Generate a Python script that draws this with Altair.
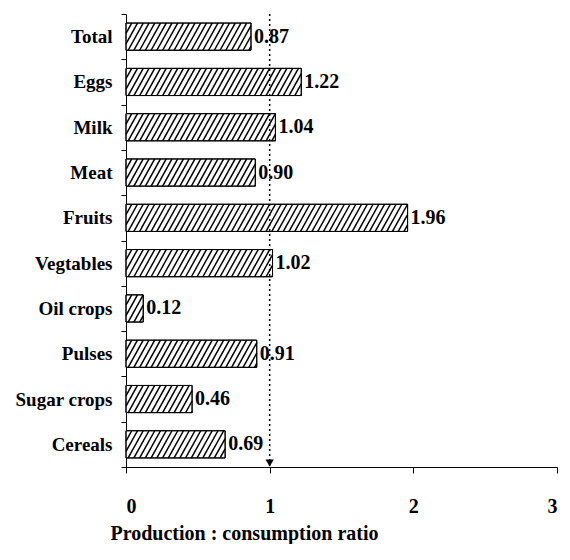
import altair as alt
import pandas as pd

# ---- data ----
categories = ["Total", "Eggs", "Milk", "Meat", "Fruits", "Vegtables",
              "Oil crops", "Pulses", "Sugar crops", "Cereals"]
ratios = [0.87, 1.22, 1.04, 0.90, 1.96, 1.02, 0.12, 0.91, 0.46, 0.69]
x_ticks = [0, 1, 2, 3]
reference_ratio = 1

n = len(categories)
df = pd.DataFrame({
    "category": categories,
    "value": ratios,
    "idx": [n - 1 - i for i in range(n)],
})

FONT = "Liberation Serif"
W, H = 431, 453
HB = 0.30
RUN = 0.105
STEP = 0.040

xscale = alt.Scale(domain=[0, 3], nice=False, zero=True)
yscale = alt.Scale(domain=[-0.5, n - 0.5], nice=False, zero=False)

# ticks sit on the band boundaries; each label is the band just above its tick
y_tick_values = [i - 0.5 for i in range(n + 1)]
label_expr = ""
for i, c in enumerate(reversed(categories)):
    label_expr += f"round(datum.value + 0.5) == {i} ? '{c}' : "
label_expr += "''"

x_axis = alt.Axis(values=x_ticks, format="d", grid=False,
                  labelFont=FONT, labelFontSize=20, labelFontWeight="bold",
                  labelColor="black", tickSize=6, tickColor="black",
                  domainColor="black", labelPadding=23,
                  title="Production : consumption ratio",
                  titleFont=FONT, titleFontSize=20, titleFontWeight="bold",
                  titleColor="black", titleX=118, titleY=72,
                  titleBaseline="alphabetic", titleAlign="center")
y_axis = alt.Axis(orient="left", values=y_tick_values, labelExpr=label_expr,
                  labelOffset=-H / (2 * n), grid=False, title=None,
                  tickSize=5, tickColor="black", domainColor="black",
                  labelFont=FONT, labelFontSize=19, labelFontWeight="bold",
                  labelColor="black", labelPadding=9)

base = alt.Chart(df).transform_calculate(
    bot=f"datum.idx - {HB}", top=f"datum.idx + {HB}", zero="0"
)

bars = base.mark_rect(fill="white", stroke="black", strokeWidth=1).encode(
    x=alt.X("zero:Q", scale=xscale, axis=x_axis),
    x2="value:Q",
    y=alt.Y("bot:Q", scale=yscale, axis=y_axis),
    y2="top:Q",
)

hatch = base.transform_calculate(
    s=f"sequence(-{RUN}, datum.value, {STEP})"
).transform_flatten(["s"]).transform_calculate(
    xa="max(datum.s, 0)",
    xb=f"min(datum.s + {RUN}, datum.value)",
).transform_calculate(
    ya=f"datum.bot + (datum.xa - datum.s) / {RUN} * {2 * HB}",
    yb=f"datum.bot + (datum.xb - datum.s) / {RUN} * {2 * HB}",
).transform_filter("datum.xb > datum.xa").mark_rule(
    color="black", strokeWidth=1.5
).encode(
    x=alt.X("xa:Q", scale=xscale, axis=x_axis),
    x2="xb:Q",
    y=alt.Y("ya:Q", scale=yscale, axis=y_axis),
    y2="yb:Q",
)

outline = base.mark_rect(fill="white", fillOpacity=0, stroke="black", strokeWidth=1).encode(
    x=alt.X("zero:Q", scale=xscale, axis=x_axis),
    x2="value:Q",
    y=alt.Y("bot:Q", scale=yscale, axis=y_axis),
    y2="top:Q",
)

labels = base.mark_text(align="left", baseline="middle", dx=3, font=FONT,
                        fontSize=20, fontWeight="bold", color="black").encode(
    x=alt.X("value:Q", scale=xscale, axis=x_axis),
    y=alt.Y("idx:Q", scale=yscale, axis=y_axis),
    text=alt.Text("value:Q", format=".2f"),
)

ref_df = pd.DataFrame({"ref": [reference_ratio], "bottom": [-0.5]})
ref_line = alt.Chart(ref_df).mark_rule(color="black", strokeWidth=1.5,
                                       strokeDash=[2, 3]).encode(
    x=alt.X("ref:Q", scale=xscale, axis=x_axis),
)
arrow = alt.Chart(ref_df).mark_point(
    shape="triangle-down", filled=True, color="black", size=70, opacity=1, yOffset=-4
).encode(
    x=alt.X("ref:Q", scale=xscale, axis=x_axis),
    y=alt.Y("bottom:Q", scale=yscale, axis=y_axis),
)

chart = alt.layer(bars, hatch, outline, ref_line, labels, arrow).properties(
    width=W, height=H,
    background="white",
    autosize=alt.AutoSizeParams(type="none"),
    padding={"left": 118, "top": 6, "right": 5, "bottom": 77},
).configure_view(stroke=None)

chart.save("out.html", embed_options={"renderer": "svg", "actions": False})
